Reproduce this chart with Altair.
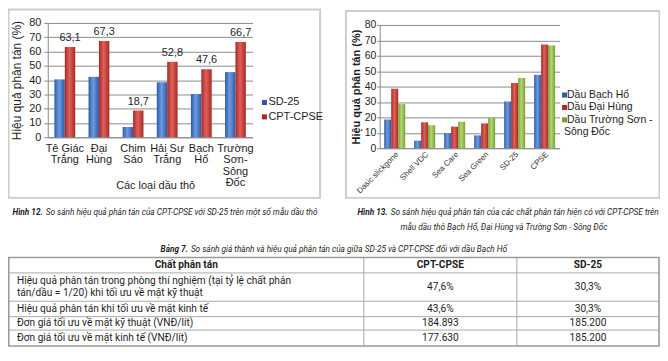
import altair as alt
import pandas as pd

# ---------------- data ----------------
oils12 = ["Tê Giác\nTrắng", "Đại\nHùng", "Chim\nSáo", "Hải Sư\nTrắng", "Bạch\nHổ", "Trường\nSơn-\nSông\nĐốc"]
series12 = ["SD-25", "CPT-CPSE"]
sd25_12 = [40.5, 42.3, 7.2, 38.5, 30.3, 45.6]
cpt_12 = [63.1, 67.3, 18.7, 52.8, 47.6, 66.7]

agents13 = ["Dasic slickgone", "Shell VDC", "Sea Care", "Sea Green", "SD-25", "CPSE"]
series13 = ["Dầu Bạch Hổ", "Dầu Đại Hùng", "Dầu Trường Sơn -\nSông Đốc"]
bach_ho_13 = [18.6, 4.9, 9.8, 8.3, 30.3, 47.6]
dai_hung_13 = [38.6, 16.8, 14.0, 16.1, 42.3, 67.3]
truong_son_13 = [28.6, 14.9, 17.2, 19.9, 45.6, 66.7]

title12_y = "Hiệu quả phân tán (%)"
title12_x = "Các loại dầu thô"
title13_y = "Hiệu quả phân tán (%)"

cap12_bold = "Hình 12."
cap12_rest = "So sánh hiệu quả phân tán của CPT-CPSE với SD-25 trên một số mẫu dầu thô"
cap13_bold = "Hình 13."
cap13_rest = "So sánh hiệu quả phân tán của các chất phân tán hiện có với CPT-CPSE trên"
cap13_line2 = "mẫu dầu thô Bạch Hổ, Đại Hùng và Trường Sơn - Sông Đốc"
tab_bold = "Bảng 7."
tab_rest = "So sánh giá thành và hiệu quả phân tán của giữa SD-25 và CPT-CPSE đối với dầu Bạch Hổ"

tab_header = ["Chất phân tán", "CPT-CPSE", "SD-25"]
tab_rows = [
    "Hiệu quả phân tán trong phòng thí nghiệm (tại tỷ lệ chất phân\ntán/dầu = 1/20) khi tối ưu về mặt kỹ thuật",
    "Hiệu quả phân tán khi tối ưu về mặt kinh tế",
    "Đơn giá tối ưu về mặt kỹ thuật (VNĐ/lít)",
    "Đơn giá tối ưu về mặt kinh tế (VNĐ/lít)",
]
tab_cpt = ["47,6%", "43,6%", "184.893", "177.630"]
tab_sd = ["30,3%", "30,3%", "185.200", "185.200"]

# ---------------- layout / style ----------------
W, H = 656, 340
F_CH = "Liberation Sans"
F_CAP = "Roboto"
F_TAB = "Roboto"
TXT = "#1e1e1e"
GRID = "#8a8a8a"

L_X = [40, 246]
L_Y = [129, 14]
R_X = [374, 555]
R_Y = [140, 16]

BLUE = ("#2d5aa8", "#6d9be0")
RED = ("#a52a27", "#e0605a")
GREEN = ("#78a032", "#b4d770")


def grad(c):
    dark, light = c
    return alt.Gradient(
        gradient="linear", x1=0, x2=1, y1=0, y2=0,
        stops=[alt.GradientStop(offset=0, color=dark),
               alt.GradientStop(offset=0.45, color=light),
               alt.GradientStop(offset=1, color=dark)])


def px(field):
    return alt.X(f"{field}:Q", scale=None, axis=None)


def py(field):
    return alt.Y(f"{field}:Q", scale=None, axis=None)


# ---------------- Figure 12 ----------------
df12 = pd.DataFrame({
    "oil": oils12 * 2,
    "series": [series12[0]] * 6 + [series12[1]] * 6,
    "value": sd25_12 + cpt_12,
})
df12["label"] = [f"{v:.1f}".replace(".", ",") for v in df12["value"]]

x12 = alt.X("oil:N", sort=oils12, title=title12_x,
            scale=alt.Scale(range=L_X, paddingInner=0.39, paddingOuter=0.195),
            axis=alt.Axis(orient="bottom", offset=-(H - L_Y[0]),
                          labelExpr="split(datum.label, '\\n')",
                          labelAngle=0, labelFont=F_CH, labelFontSize=11, labelColor=TXT,
                          labelPadding=5, labelLineHeight=11.5, ticks=False,
                          domainColor=GRID, titleFont=F_CH, titleFontSize=11,
                          titleFontWeight="normal", titleColor=TXT,
                          titleX=148, titleY=49, titleBaseline="middle"))
y12 = alt.Y("value:Q", title=title12_y,
            scale=alt.Scale(domain=[0, 80], range=L_Y, nice=False),
            axis=alt.Axis(orient="left", offset=-L_X[0], values=list(range(0, 81, 10)),
                          grid=True, gridColor=GRID, domainColor=GRID, tickColor=GRID,
                          tickSize=4, labelPadding=3, labelFont=F_CH, labelFontSize=11,
                          labelColor=TXT, titleFont=F_CH, titleFontSize=12,
                          titleFontWeight="normal", titleColor=TXT, titleX=-31,
                          titleY=(L_Y[0] + L_Y[1]) / 2, titleBaseline="middle"))
xo12 = alt.XOffset("series:N", sort=series12,
                   scale=alt.Scale(domain=series12, paddingInner=0, paddingOuter=0))
base12 = alt.Chart(df12).encode(x=x12, y=y12, xOffset=xo12)
chart12 = alt.layer(
    base12.mark_bar(color=grad(BLUE)).transform_filter(alt.datum.series == series12[0]),
    base12.mark_bar(color=grad(RED)).transform_filter(alt.datum.series == series12[1]),
    base12.mark_text(dy=-9, font=F_CH, fontSize=11, color=TXT)
    .encode(text="label:N").transform_filter(alt.datum.series == series12[1]),
)

# ---------------- Figure 13 ----------------
df13 = pd.DataFrame({
    "agent": agents13 * 3,
    "series": [series13[0]] * 6 + [series13[1]] * 6 + [series13[2]] * 6,
    "value": bach_ho_13 + dai_hung_13 + truong_son_13,
})
x13 = alt.X("agent:N", sort=agents13, title=None,
            scale=alt.Scale(range=R_X, paddingInner=0.3, paddingOuter=0.15),
            axis=alt.Axis(orient="bottom", offset=-(H - R_Y[0]), labelAngle=315,
                          labelAlign="right", labelBaseline="top", labelFont=F_CH,
                          labelFontSize=8, labelColor="#333333", labelPadding=2,
                          ticks=False, domainColor=GRID))
y13 = alt.Y("value:Q", title=title13_y,
            scale=alt.Scale(domain=[0, 80], range=R_Y, nice=False),
            axis=alt.Axis(orient="left", offset=-R_X[0], values=list(range(0, 81, 10)),
                          grid=True, gridColor=GRID, domainColor=GRID, tickColor=GRID,
                          tickSize=3, labelPadding=1, labelFont=F_CH, labelFontSize=10.5,
                          labelColor=TXT, titleFont=F_CH, titleFontSize=11,
                          titleFontWeight="bold", titleColor=TXT, titleX=-23,
                          titleY=(R_Y[0] + R_Y[1]) / 2, titleBaseline="middle"))
xo13 = alt.XOffset("series:N", sort=series13,
                   scale=alt.Scale(domain=series13, paddingInner=0, paddingOuter=0))
base13 = alt.Chart(df13).encode(x=x13, y=y13, xOffset=xo13)
chart13 = alt.layer(
    base13.mark_bar(color=grad(BLUE)).transform_filter(alt.datum.series == series13[0]),
    base13.mark_bar(color=grad(RED)).transform_filter(alt.datum.series == series13[1]),
    base13.mark_bar(color=grad(GREEN)).transform_filter(alt.datum.series == series13[2]),
)

# ---------------- legends ----------------
leg_sq = pd.DataFrame({
    "x": [258, 258, 560, 560, 560],
    "y": [94, 108.5, 86.5, 99, 111.5],
    "c": [BLUE[0], RED[0], BLUE[0], RED[0], GREEN[0]],
})
leg_sq_layer = alt.Chart(leg_sq).mark_square(size=26, opacity=1).encode(
    x=px("x"), y=py("y"), color=alt.Color("c:N", scale=None))

leg12_txt = pd.DataFrame({"t": series12, "x": [262, 262], "y": [94, 108.5]})
leg12_layer = alt.Chart(leg12_txt).mark_text(
    align="left", baseline="middle", font=F_CH, fontSize=11, color=TXT
).encode(x=px("x"), y=py("y"), text="t:N")

leg13_lines = []
for s in series13:
    leg13_lines += s.split("\n")
leg13_txt = pd.DataFrame({"t": leg13_lines, "x": [562.5, 562.5, 562.5, 559.5],
                          "y": [86.5, 99, 111.5, 124]})
leg13_layer = alt.Chart(leg13_txt).mark_text(
    align="left", baseline="middle", font=F_CH, fontSize=10.5, color=TXT
).encode(x=px("x"), y=py("y"), text="t:N")

# ---------------- frames & table lines ----------------
frames = pd.DataFrame({"x": [0.5, 340], "x2": [314, 655.5], "y": [0.5, 2], "y2": [190, 190]})
frame_layer = alt.Chart(frames).mark_rect(filled=False, stroke="#cdcdcd", strokeWidth=2).encode(
    x=px("x"), x2="x2:Q", y=py("y"), y2="y2:Q")

T_X = [0.75, 358, 512, 655]
T_Y = [250, 265.5, 294, 309.5, 323, 339]
hlines = pd.DataFrame({"x": [T_X[0]] * (len(T_Y) - 2), "x2": [T_X[-1]] * (len(T_Y) - 2),
                       "y": T_Y[1:-1]})
hline_layer = alt.Chart(hlines).mark_rule(color="#a8a8a8", strokeWidth=1).encode(
    x=px("x"), x2="x2:Q", y=py("y"))
vlines = pd.DataFrame({"x": T_X[1:-1], "y": [T_Y[0]] * 2, "y2": [T_Y[-1]] * 2})
vline_layer = alt.Chart(vlines).mark_rule(color="#a8a8a8", strokeWidth=1).encode(
    x=px("x"), y=py("y"), y2="y2:Q")
tbox = pd.DataFrame({"x": [T_X[0]], "x2": [T_X[-1]], "y": [T_Y[0]], "y2": [T_Y[-1]]})
tbox_layer = alt.Chart(tbox).mark_rect(filled=False, stroke="#9a9a9a", strokeWidth=1.6).encode(
    x=px("x"), x2="x2:Q", y=py("y"), y2="y2:Q")

# ---------------- table text ----------------
TAB_FS = 10.2
col_c = [(T_X[0] + T_X[1]) / 2, (T_X[1] + T_X[2]) / 2, (T_X[2] + T_X[3]) / 2]
row_c = [(T_Y[i] + T_Y[i + 1]) / 2 for i in range(len(T_Y) - 1)]
hdr = pd.DataFrame({"t": tab_header, "x": col_c, "y": [row_c[0]] * 3})
hdr_layer = alt.Chart(hdr).mark_text(
    align="center", baseline="middle", font=F_TAB, fontSize=TAB_FS, fontWeight="bold", color=TXT
).encode(x=px("x"), y=py("y"), text="t:N")

lab_rows = []
for i, r in enumerate(tab_rows):
    lines = r.split("\n")
    n = len(lines)
    for k, line in enumerate(lines):
        lab_rows.append({"t": line, "x": 9, "y": row_c[i + 1] + (k - (n - 1) / 2) * 12.5})
lab_layer = alt.Chart(pd.DataFrame(lab_rows)).mark_text(
    align="left", baseline="middle", font=F_TAB, fontSize=TAB_FS, color=TXT
).encode(x=px("x"), y=py("y"), text="t:N")

vals = pd.DataFrame({
    "t": tab_cpt + tab_sd,
    "x": [col_c[1]] * 4 + [col_c[2]] * 4,
    "y": row_c[1:] * 2,
})
val_layer = alt.Chart(vals).mark_text(
    align="center", baseline="middle", font=F_TAB, fontSize=TAB_FS, color=TXT
).encode(x=px("x"), y=py("y"), text="t:N")

# ---------------- captions ----------------
CAP_FS = 8.3
cap_b = pd.DataFrame({"t": [cap12_bold, cap13_bold, tab_bold],
                      "x": [35, 382, 181], "y": [205, 205, 242]})
cap_b_layer = alt.Chart(cap_b).mark_text(
    align="right", baseline="middle", font=F_CAP, fontSize=CAP_FS, fontStyle="italic",
    fontWeight="bold", color=TXT
).encode(x=px("x"), y=py("y"), text="t:N")
cap_r = pd.DataFrame({"t": [cap12_rest, cap13_rest, tab_rest],
                      "x": [38, 385, 184], "y": [205, 205, 242]})
cap_r_layer = alt.Chart(cap_r).mark_text(
    align="left", baseline="middle", font=F_CAP, fontSize=CAP_FS, fontStyle="italic", color=TXT
).encode(x=px("x"), y=py("y"), text="t:N")
cap_c = pd.DataFrame({"t": [cap13_line2], "x": [499], "y": [220]})
cap_c_layer = alt.Chart(cap_c).mark_text(
    align="center", baseline="middle", font=F_CAP, fontSize=CAP_FS, fontStyle="italic", color=TXT
).encode(x=px("x"), y=py("y"), text="t:N")

chart = alt.layer(
    frame_layer, chart12, chart13, leg_sq_layer, leg12_layer, leg13_layer,
    hline_layer, vline_layer, tbox_layer, hdr_layer, lab_layer, val_layer,
    cap_b_layer, cap_r_layer, cap_c_layer,
).resolve_scale(
    x="independent", y="independent", xOffset="independent"
).properties(
    width=W, height=H, autosize=alt.AutoSizeParams(type="none"), padding=0,
    background="white",
).configure_view(stroke=None)

chart.save("out.html", embed_options={"renderer": "svg", "actions": False})
